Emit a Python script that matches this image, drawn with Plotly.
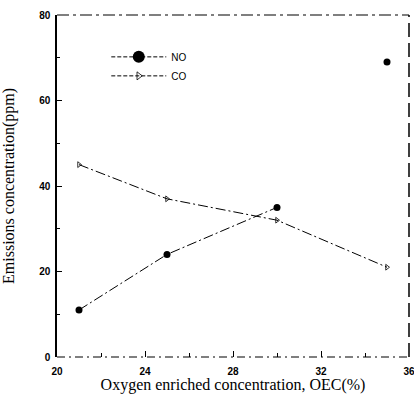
import plotly.graph_objects as go

oec = [21, 25, 30, 35]
no_ppm = [11, 24, 35, 69]
co_ppm = [45, 37, 32, 21]
x_ticks = [20, 24, 28, 32, 36]
y_ticks = [0, 20, 40, 60, 80]

fig = go.Figure()

# NO line (connected only through first three points as in reference)
fig.add_trace(go.Scatter(x=oec[:3], y=no_ppm[:3], mode="lines",
                         line=dict(color="black", width=1, dash="10px,3px,2px,3px"),
                         showlegend=False, hoverinfo="skip"))
fig.add_trace(go.Scatter(x=oec, y=no_ppm, mode="markers",
                         marker=dict(color="black", size=7, symbol="circle"),
                         showlegend=False, name="NO"))
fig.add_trace(go.Scatter(x=oec, y=co_ppm, mode="lines+markers",
                         line=dict(color="black", width=1, dash="10px,3px,2px,3px"),
                         marker=dict(color="black", size=5, symbol="triangle-right-open",
                                     line=dict(width=0.8)),
                         showlegend=False, name="CO"))

# legend entries
fig.add_trace(go.Scatter(x=[None], y=[None], mode="lines+markers", name="NO",
                         line=dict(color="black", width=1, dash="4px,2px"),
                         marker=dict(color="black", size=12, symbol="circle")))
fig.add_trace(go.Scatter(x=[None], y=[None], mode="lines+markers", name="CO",
                         line=dict(color="black", width=1, dash="4px,2px"),
                         marker=dict(color="black", size=7, symbol="triangle-right-open",
                                     line=dict(width=0.8))))

# frame top, right and bottom (broken dashed look)
fig.add_shape(type="line", xref="paper", yref="paper", x0=0, x1=1, y0=1, y1=1,
              line=dict(color="black", width=1.2, dash="12px,4px,3px,4px"))
fig.add_shape(type="line", xref="paper", yref="paper", x0=1, x1=1, y0=0, y1=1,
              line=dict(color="black", width=1.5, dash="14px,6px"))
fig.add_shape(type="line", xref="paper", yref="paper", x0=0, x1=1, y0=0, y1=0,
              line=dict(color="black", width=1.2, dash="8px,4px,2px,4px"))

tickfont = dict(family="Liberation Sans, Arial", size=10, color="black")
fig.update_layout(
    width=414, height=394,
    margin=dict(l=57, r=5, t=15, b=37),
    paper_bgcolor="white", plot_bgcolor="white",
    font=dict(family="Liberation Serif, Times New Roman", color="black"),
    xaxis=dict(range=[20, 36], tickvals=x_ticks, ticktext=[f"<b>{v}</b>" for v in x_ticks],
               ticks="inside", ticklen=6, tickcolor="black", showgrid=False, zeroline=False,
               showline=False, tickfont=tickfont, ticklabelstandoff=7,
               ticklabeloverflow="allow", automargin=False,
               minor=dict(dtick=2, ticks="inside", ticklen=4, tickcolor="black"),
               title=dict(text="Oxygen enriched concentration, OEC(%)",
                          font=dict(family="Liberation Serif, Times New Roman", size=16),
                          standoff=3)),
    yaxis=dict(range=[0, 80], tickvals=y_ticks, ticktext=[f"<b>{v}</b>" for v in y_ticks],
               ticks="inside", ticklen=5, tickcolor="black", showgrid=False, zeroline=False,
               showline=True, linecolor="black", linewidth=1.5, tickfont=tickfont,
               ticklabelstandoff=3, automargin=False,
               minor=dict(dtick=10, ticks="inside", ticklen=3, tickcolor="black"),
               title=dict(text="Emissions concentration(ppm)",
                          font=dict(family="Liberation Serif, Times New Roman", size=16),
                          standoff=22)),
    legend=dict(x=0.14, y=0.92, xanchor="left", yanchor="top", bgcolor="rgba(0,0,0,0)",
                font=dict(family="Liberation Sans, Arial", size=10, color="black"),
                itemwidth=55, tracegroupgap=4),
    showlegend=True,
)

fig.write_html("out.html")
